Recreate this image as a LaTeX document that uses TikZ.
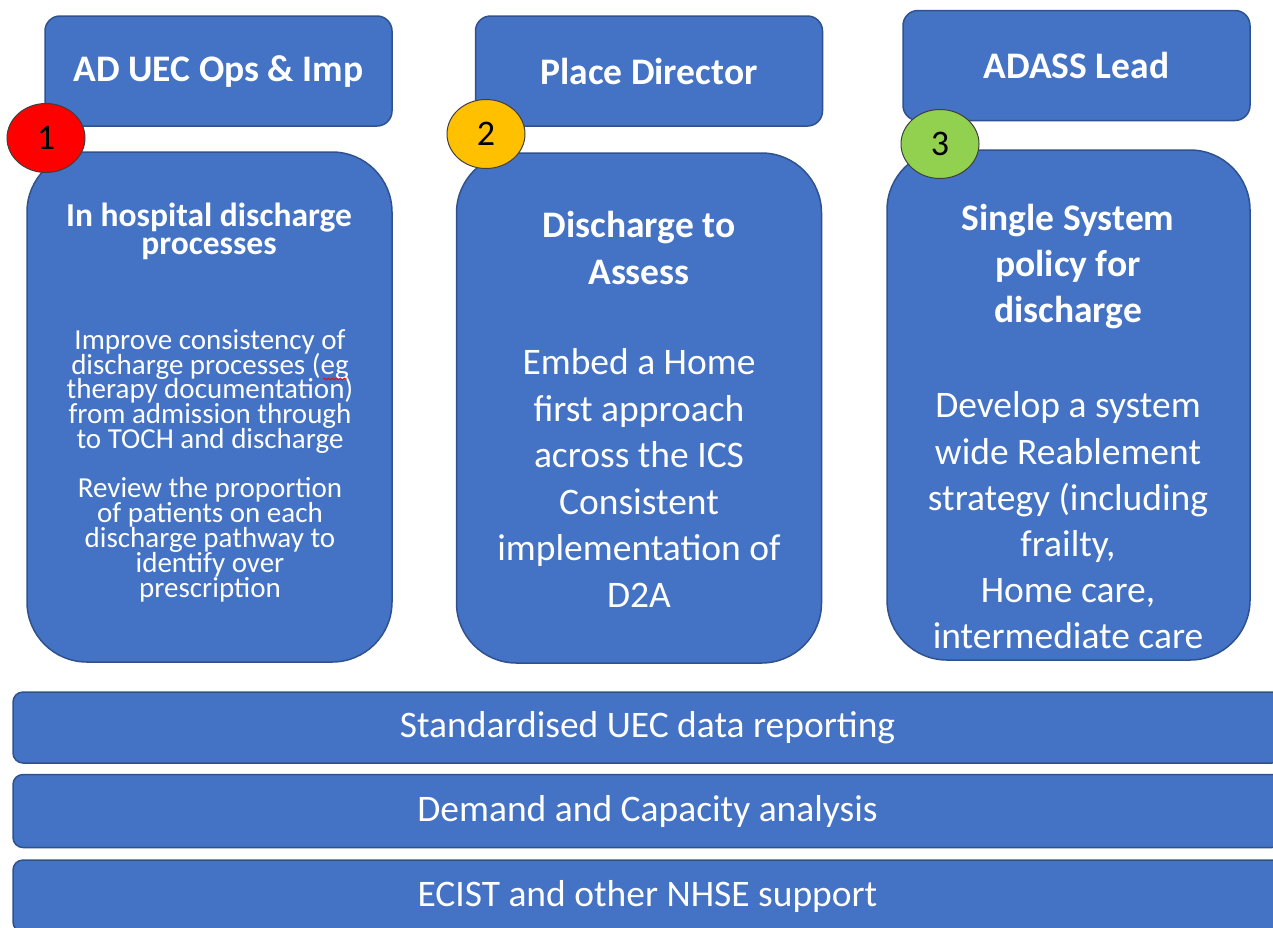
\documentclass[tikz,border=0pt]{standalone}
\usepackage{fontspec}
\setmainfont{Carlito}
\usetikzlibrary{shapes.geometric,decorations.pathmorphing}
\newcommand\tightlines{\lineskiplimit -100pt\relax}
\definecolor{boxblue}{HTML}{4472C4}
\definecolor{boxline}{HTML}{2F528F}
\definecolor{cred}{HTML}{FF0000}
\definecolor{cgold}{HTML}{FFC000}
\definecolor{cgreen}{HTML}{92D050}
\definecolor{cline}{HTML}{3F3F3F}
\tikzset{
  bluebox/.style={draw=boxline, line width=1.5pt, fill=boxblue, inner sep=0pt, text=white},
  topbox/.style={bluebox, rounded corners=15pt, minimum width=347pt, minimum height=110pt,
     font=\fontsize{37.5}{45}\selectfont\bfseries},
  bigbox/.style={bluebox, rounded corners=60pt, minimum width=365pt, minimum height=510pt},
  barbox/.style={bluebox, rounded corners=10pt, minimum width=1269pt,
     font=\fontsize{37.5}{45}\selectfont},
  badge/.style={ellipse, draw=cline, line width=1pt, minimum width=78pt, minimum height=69pt,
     inner sep=0pt, text=black, font=\fontsize{36}{40}\selectfont},
  txtone/.style={text=white, align=center, inner sep=0pt},
  spellmark/.style={draw=red, line width=0.8pt, decorate,
     decoration={snake, segment length=4pt, amplitude=0.9pt}},
}
\begin{document}
\begin{tikzpicture}[x=1pt,y=-1pt]
\clip (0,0) rectangle (1273,927);
\fill[white] (0,0) rectangle (1273,927);

% top boxes
\node[topbox] (ta) at (218.5,71) {AD UEC Ops \& Imp};
\node[topbox] (tb) at (649,71) {Place Director};
\node[topbox] (tc) at (1076.5,65.5) {ADASS Lead};

% big boxes
\node[bigbox] (b1) at (209.5,407) {};
\node[bigbox] (b2) at (639,408) {};
\node[bigbox, minimum width=363pt] (b3) at (1068.5,405) {};

% box 1 text
\node[txtone, font=\fontsize{33.5}{28}\selectfont\bfseries\tightlines] (t1h) at (209,231)
  {In hospital discharge\\processes};
\node[txtone, font=\fontsize{29}{24.7}\selectfont\tightlines] (t1a) at (210,391.5)
  {Improve consistency of\\discharge processes (eg\\therapy documentation)\\from admission through\\to TOCH and discharge};
\node[txtone, font=\fontsize{29}{25}\selectfont\tightlines] (t1b) at (210,539.5)
  {Review the proportion\\of patients on each\\discharge pathway to\\identify over\\prescription};
\coordinate (sq1) at (323,379);
\coordinate (sq2) at (347,379);
\draw[spellmark] (sq1) -- (sq2);

% box 2 text
\node[txtone, font=\fontsize{37.5}{46.5}\selectfont\bfseries] (t2h) at (639,248)
  {Discharge to\\Assess};
\node[txtone, font=\fontsize{37.5}{46.5}\selectfont] (t2a) at (639,478)
  {Embed a Home\\first approach\\across the ICS\\Consistent\\implementation of\\D2A};

% box 3 text
\node[txtone, font=\fontsize{37.5}{46}\selectfont\bfseries] (t3h) at (1068,266.5)
  {Single System\\policy for\\discharge};
\node[txtone, font=\fontsize{37.5}{46.2}\selectfont] (t3a) at (1068,520.5)
  {Develop a system\\wide Reablement\\strategy (including\\frailty,\\Home care,\\intermediate care};

% badges
\node[badge, fill=cred] (c1) at (46,138) {1};
\node[badge, fill=cgold] (c2) at (486,134) {2};
\node[badge, fill=cgreen] (c3) at (940,144) {3};

% bars
\node[barbox, minimum height=71pt] (r1) at (647.5,727.5) {Standardised UEC data reporting};
\node[barbox, minimum height=73pt] (r2) at (647.5,811) {Demand and Capacity analysis};
\node[barbox, minimum height=72pt] (r3) at (647.5,896) {ECIST and other NHSE support};
\end{tikzpicture}
\end{document}
